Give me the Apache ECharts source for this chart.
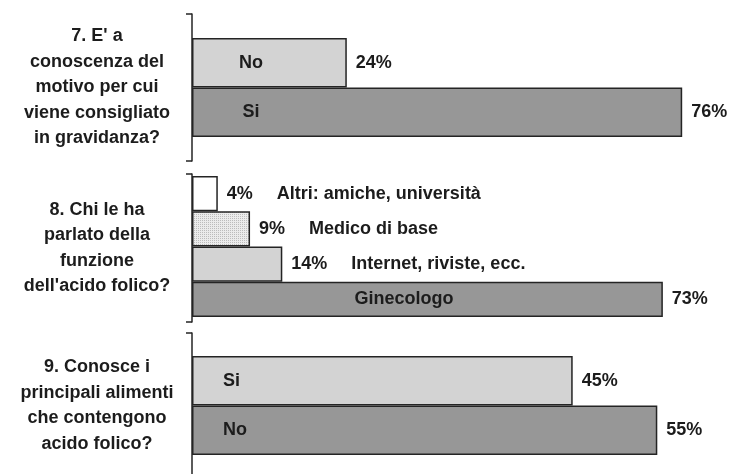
<!DOCTYPE html>
<html>
<head>
<meta charset="utf-8">
<script src="https://cdn.jsdelivr.net/npm/echarts@6/dist/echarts.min.js"></script>
<style>
  html, body { margin: 0; padding: 0; background: #fff; }
  #chart { width: 731px; height: 474px; }
</style>
</head>
<body>
<div id="chart"></div>
<script>
// domande (etichette a sinistra)
const questions = [
  "7. E' a\nconoscenza del\nmotivo per cui\nviene consigliato\nin gravidanza?",
  "8. Chi le ha\nparlato della\nfunzione\ndell'acido folico?",
  "9. Conosce i\nprincipali alimenti\nche contengono\nacido folico?"
];

// domanda 7
const q7Cats = ['No', 'Si'];
const q7Values = [24, 76];

// domanda 8
const q8Cats = ['Altri: amiche, università', 'Medico di base', 'Internet, riviste, ecc.', 'Ginecologo'];
const q8Values = [4, 9, 14, 73];

// domanda 9
const q9Cats = ['Si', 'No'];
const q9Values = [45, 55];

const font = "'Liberation Sans', Arial, sans-serif";
const ink = '#1c1c1c';
const light = '#d3d3d3';
const dark = '#979797';

// trama puntinata per "Medico di base"
const pat = document.createElement('canvas');
pat.width = 4; pat.height = 4;
const pctx = pat.getContext('2d');
pctx.fillStyle = '#ebebeb';
pctx.fillRect(0, 0, 4, 4);
pctx.fillStyle = '#bcbcbc';
pctx.fillRect(0, 0, 1, 1);
pctx.fillRect(2, 2, 1, 1);
pctx.fillRect(2, 0, 1, 1);
pctx.fillRect(0, 2, 1, 1);
const dotted = { image: pat, repeat: 'repeat' };

const q7Colors = [light, dark];
const q8Colors = ['#ffffff', dotted, light, dark];
const q9Colors = [light, dark];

const txt = { color: ink, fontFamily: font, fontWeight: 'bold', fontSize: 18 };
const edge = { borderColor: '#242424', borderWidth: 1.5 };

function bracketAxis(grid, q) {
  return {
    type: 'category', gridIndex: grid, data: [q],
    axisLine: { lineStyle: { color: '#242424', width: 1.5 } },
    axisTick: { show: true, length: 6, lineStyle: { color: '#242424', width: 1.5 } },
    axisLabel: Object.assign({ margin: 95, align: 'center', lineHeight: 25.5 }, txt)
  };
}
function barAxis(grid, cats) {
  return { type: 'category', gridIndex: grid, data: cats, inverse: true, show: false };
}
function hiddenX(grid, max) {
  return { type: 'value', gridIndex: grid, min: 0, max: max, show: false };
}
function box(top, width, height) {
  return { left: 192, top: top, width: width, height: height, containLabel: false, outerBoundsMode: 'none' };
}

function barSeries(ax, values, colors, valueLabel) {
  return {
    type: 'bar', xAxisIndex: ax, yAxisIndex: ax,
    barWidth: '100%', barGap: '-100%',
    data: values.map((v, i) => ({ value: v, itemStyle: { color: colors[i] } })),
    itemStyle: edge,
    label: Object.assign({ show: true, position: 'right', distance: 9, formatter: '{c}%' }, txt, valueLabel || {}),
    z: 2
  };
}
// serie trasparente sopra le barre, solo per il nome dentro la barra
function nameSeries(ax, values, pos, align, showFn) {
  return {
    type: 'bar', xAxisIndex: ax, yAxisIndex: ax,
    barWidth: '100%', barGap: '-100%', silent: true,
    data: values.map((v, i) => ({ value: v, label: { show: showFn ? showFn(v, i) : true } })),
    itemStyle: { color: 'transparent', borderWidth: 0 },
    label: Object.assign({ position: [pos, '50%'], align: align, verticalAlign: 'middle', formatter: '{b}' }, txt),
    z: 3
  };
}

const chart = echarts.init(document.getElementById('chart'), null, { renderer: 'canvas' });

chart.setOption({
  animation: false,
  backgroundColor: '#ffffff',
  grid: [
    box(14, 10, 147),
    box(38, 645, 99),
    box(174, 10, 148),
    box(176, 645, 141),
    box(333, 10, 145),
    box(356, 846, 99)
  ],
  xAxis: [
    hiddenX(0, 1), hiddenX(1, 100),
    hiddenX(2, 1), hiddenX(3, 100),
    hiddenX(4, 1), hiddenX(5, 100)
  ],
  yAxis: [
    bracketAxis(0, questions[0]), barAxis(1, q7Cats),
    bracketAxis(2, questions[1]), barAxis(3, q8Cats),
    bracketAxis(4, questions[2]), barAxis(5, q9Cats)
  ],
  series: [
    barSeries(1, q7Values, q7Colors),
    nameSeries(1, q7Values, 59, 'center'),

    barSeries(3, q8Values, q8Colors, {
      formatter: p => p.value > 50 ? p.value + '%' : '{v|' + p.value + '%}{n|' + p.name + '}',
      rich: {
        v: Object.assign({}, txt),
        n: Object.assign({ padding: [0, 0, 0, 24] }, txt)
      }
    }),
    nameSeries(3, q8Values, 212, 'center', v => v > 50),

    barSeries(5, q9Values, q9Colors),
    nameSeries(5, q9Values, 31, 'left')
  ]
});
</script>
</body>
</html>
